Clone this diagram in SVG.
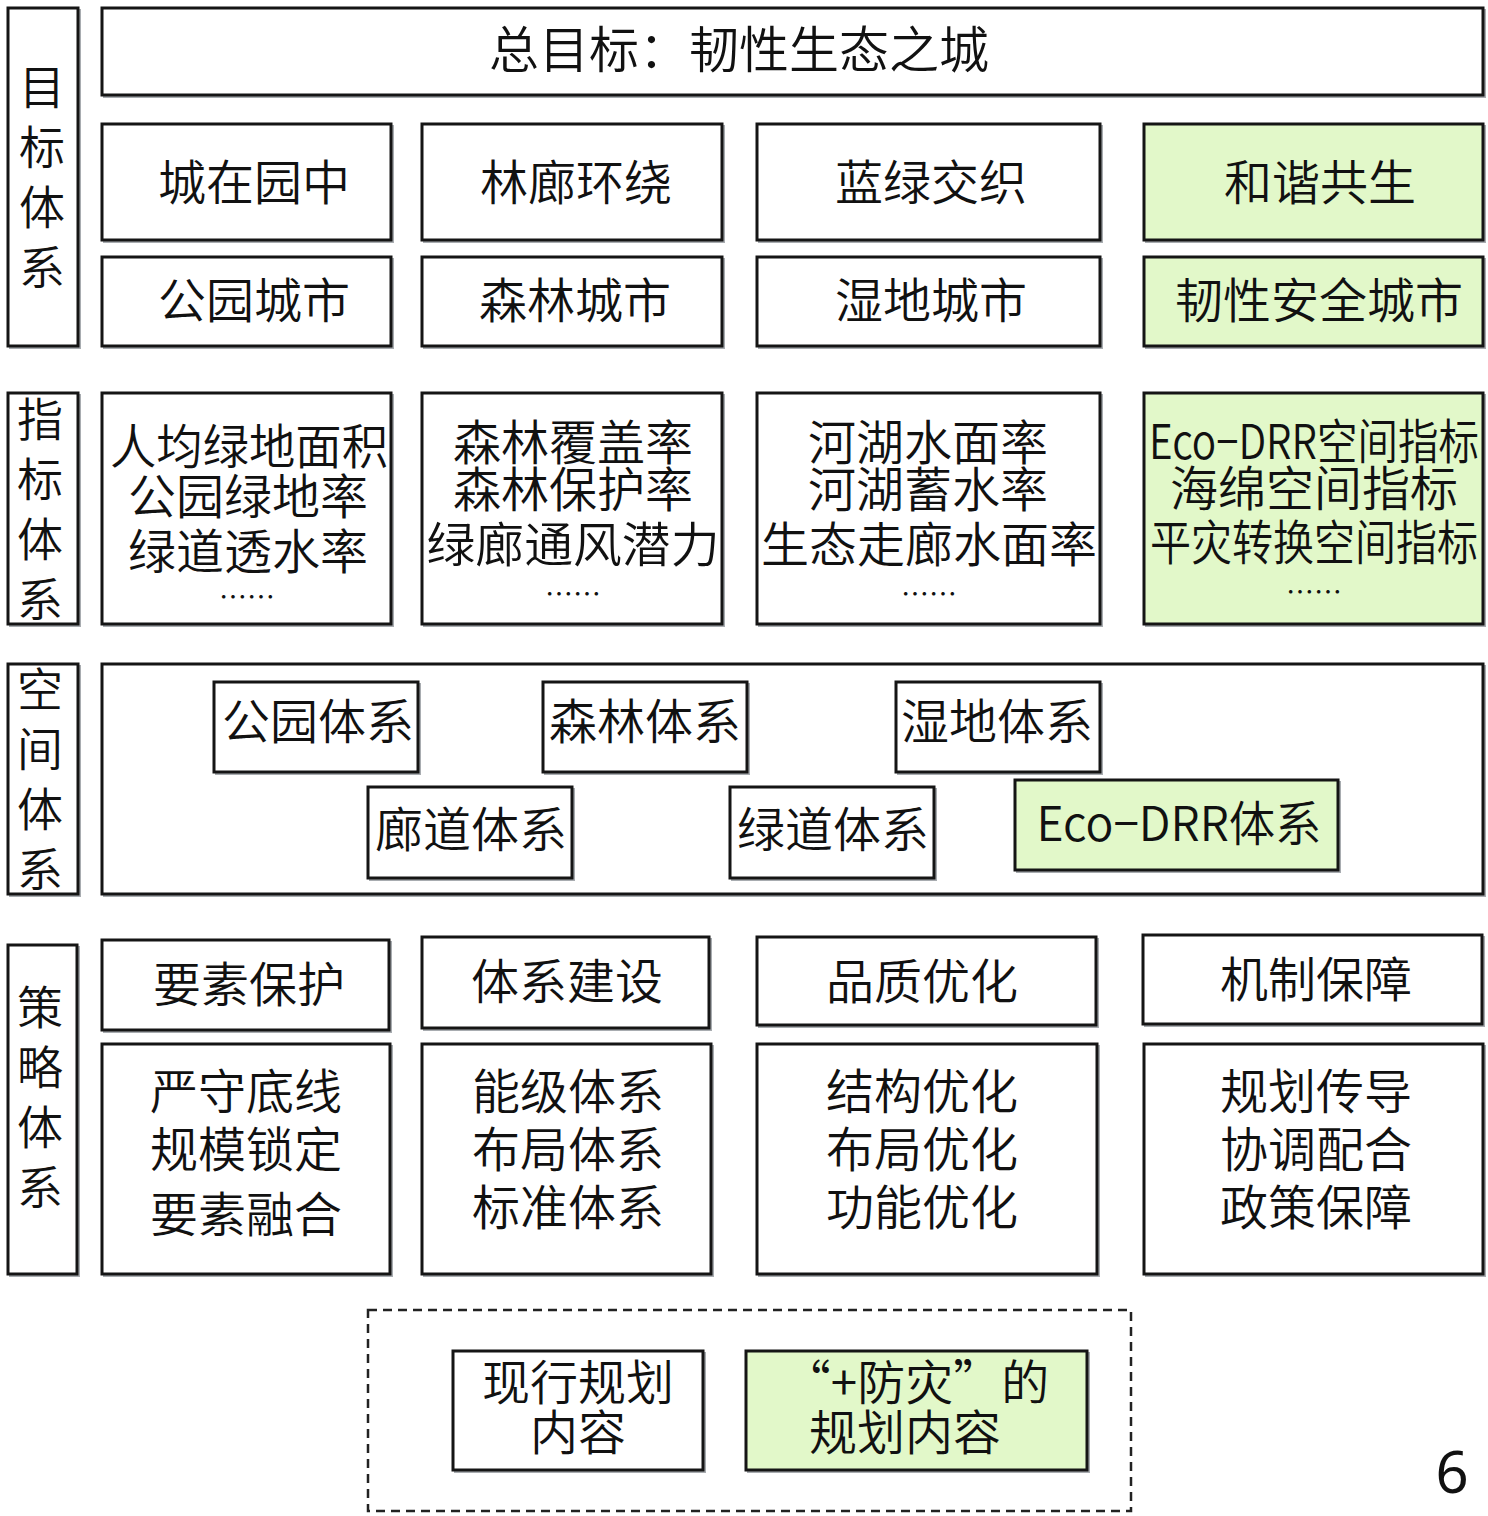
<svg xmlns="http://www.w3.org/2000/svg" width="1488" height="1516" viewBox="0 0 1488 1516">
<style>
.b{fill:#fff;stroke:#151515;stroke-width:3}
.g{fill:#e2f8c9;stroke:#151515;stroke-width:3}
.s{fill:none;stroke:#a8acb0;stroke-width:2}
text{font-family:"Noto Sans CJK SC","Noto Sans",sans-serif;font-size:48px;font-weight:350;fill:#111;text-anchor:middle;dominant-baseline:central}
.d{font-size:28px}
.v{font-size:46px}
</style>
<rect width="1488" height="1516" fill="#fff"/>

<g id="lbl-goal"><rect class="s" x="10" y="10" width="70" height="338"/><rect class="b" x="8" y="8" width="70" height="338"/>
<text class="v" x="42" y="84">目</text><text class="v" x="42" y="144">标</text><text class="v" x="42" y="204">体</text><text class="v" x="42" y="264">系</text></g>
<g id="lbl-index"><rect class="s" x="10" y="395" width="70" height="231"/><rect class="b" x="8" y="393" width="70" height="231"/>
<text class="v" x="40" y="416">指</text><text class="v" x="40" y="476">标</text><text class="v" x="40" y="536">体</text><text class="v" x="40" y="596">系</text></g>
<g id="lbl-space"><rect class="s" x="10" y="666" width="70" height="230"/><rect class="b" x="8" y="664" width="70" height="230"/>
<text class="v" x="40" y="686">空</text><text class="v" x="40" y="746">间</text><text class="v" x="40" y="806">体</text><text class="v" x="40" y="866">系</text></g>
<g id="lbl-strategy"><rect class="s" x="10" y="947" width="69" height="329"/><rect class="b" x="8" y="945" width="69" height="329"/>
<text class="v" x="40" y="1004">策</text><text class="v" x="40" y="1064">略</text><text class="v" x="40" y="1124">体</text><text class="v" x="40" y="1184">系</text></g>

<g id="goal-main"><rect class="s" x="104" y="10" width="1381" height="87"/><rect class="b" x="102" y="8" width="1381" height="87"/>
<text x="739" y="46" style="font-size:50px">总目标：韧性生态之城</text></g>

<g id="g1"><rect class="s" x="104" y="126" width="289" height="116"/><rect class="b" x="102" y="124" width="289" height="116"/><text x="254" y="179">城在园中</text></g>
<g id="g2"><rect class="s" x="424" y="126" width="300" height="116"/><rect class="b" x="422" y="124" width="300" height="116"/><text x="576" y="179">林廊环绕</text></g>
<g id="g3"><rect class="s" x="759" y="126" width="343" height="116"/><rect class="b" x="757" y="124" width="343" height="116"/><text x="931" y="179">蓝绿交织</text></g>
<g id="g4"><rect class="s" x="1146" y="126" width="339" height="116"/><rect class="g" x="1144" y="124" width="339" height="116"/><text x="1320" y="179">和谐共生</text></g>

<g id="g5"><rect class="s" x="104" y="259" width="289" height="89"/><rect class="b" x="102" y="257" width="289" height="89"/><text x="254" y="297">公园城市</text></g>
<g id="g6"><rect class="s" x="424" y="259" width="300" height="89"/><rect class="b" x="422" y="257" width="300" height="89"/><text x="575" y="297">森林城市</text></g>
<g id="g7"><rect class="s" x="759" y="259" width="343" height="89"/><rect class="b" x="757" y="257" width="343" height="89"/><text x="931" y="297">湿地城市</text></g>
<g id="g8"><rect class="s" x="1146" y="259" width="339" height="89"/><rect class="g" x="1144" y="257" width="339" height="89"/><text x="1319" y="297">韧性安全城市</text></g>

<g id="i1"><rect class="s" x="104" y="395" width="289" height="231"/><rect class="b" x="102" y="393" width="289" height="231"/>
<text x="249" y="443" textLength="278" lengthAdjust="spacingAndGlyphs">人均绿地面积</text>
<text x="248" y="493">公园绿地率</text>
<text x="248" y="548">绿道透水率</text>
<text class="d" x="247" y="596">……</text></g>
<g id="i2"><rect class="s" x="424" y="395" width="300" height="231"/><rect class="b" x="422" y="393" width="300" height="231"/>
<text x="573" y="439">森林覆盖率</text>
<text x="573" y="486">森林保护率</text>
<text x="573" y="541" textLength="293" lengthAdjust="spacingAndGlyphs">绿廊通风潜力</text>
<text class="d" x="573" y="593">……</text></g>
<g id="i3"><rect class="s" x="759" y="395" width="343" height="231"/><rect class="b" x="757" y="393" width="343" height="231"/>
<text x="928" y="439">河湖水面率</text>
<text x="928" y="486">河湖蓄水率</text>
<text x="929" y="541" textLength="336" lengthAdjust="spacingAndGlyphs">生态走廊水面率</text>
<text class="d" x="929" y="593">……</text></g>
<g id="i4"><rect class="s" x="1146" y="395" width="339" height="231"/><rect class="g" x="1144" y="393" width="339" height="231"/>
<text x="1314" y="438" textLength="330" lengthAdjust="spacingAndGlyphs">Eco−DRR空间指标</text>
<text x="1314" y="485">海绵空间指标</text>
<text x="1314" y="539" textLength="328" lengthAdjust="spacingAndGlyphs">平灾转换空间指标</text>
<text class="d" x="1314" y="591">……</text></g>

<g id="space"><rect class="s" x="104" y="666" width="1381" height="230"/><rect class="b" x="102" y="664" width="1381" height="230"/></g>
<g id="s1"><rect class="s" x="216" y="684" width="204" height="90"/><rect class="b" x="214" y="682" width="204" height="90"/><text x="318" y="718">公园体系</text></g>
<g id="s2"><rect class="s" x="545" y="684" width="204" height="90"/><rect class="b" x="543" y="682" width="204" height="90"/><text x="645" y="718">森林体系</text></g>
<g id="s3"><rect class="s" x="898" y="684" width="204" height="90"/><rect class="b" x="896" y="682" width="204" height="90"/><text x="997" y="718">湿地体系</text></g>
<g id="s4"><rect class="s" x="370" y="789" width="204" height="91"/><rect class="b" x="368" y="787" width="204" height="91"/><text x="471" y="826">廊道体系</text></g>
<g id="s5"><rect class="s" x="732" y="789" width="204" height="91"/><rect class="b" x="730" y="787" width="204" height="91"/><text x="833" y="826">绿道体系</text></g>
<g id="s6"><rect class="s" x="1017" y="782" width="323" height="90"/><rect class="g" x="1015" y="780" width="323" height="90"/><text x="1179" y="820" textLength="285" lengthAdjust="spacingAndGlyphs">Eco−DRR体系</text></g>

<g id="t1"><rect class="s" x="104" y="942" width="287" height="90"/><rect class="b" x="102" y="940" width="287" height="90"/><text x="249" y="981">要素保护</text></g>
<g id="t2"><rect class="s" x="424" y="939" width="287" height="91"/><rect class="b" x="422" y="937" width="287" height="91"/><text x="567" y="978">体系建设</text></g>
<g id="t3"><rect class="s" x="759" y="939" width="339" height="88"/><rect class="b" x="757" y="937" width="339" height="88"/><text x="922" y="978">品质优化</text></g>
<g id="t4"><rect class="s" x="1145" y="937" width="339" height="89"/><rect class="b" x="1143" y="935" width="339" height="89"/><text x="1316" y="976">机制保障</text></g>

<g id="u1"><rect class="s" x="104" y="1046" width="288" height="230"/><rect class="b" x="102" y="1044" width="288" height="230"/>
<text x="246" y="1088">严守底线</text><text x="246" y="1146">规模锁定</text><text x="246" y="1211">要素融合</text></g>
<g id="u2"><rect class="s" x="424" y="1046" width="289" height="230"/><rect class="b" x="422" y="1044" width="289" height="230"/>
<text x="568" y="1088">能级体系</text><text x="568" y="1146">布局体系</text><text x="568" y="1204">标准体系</text></g>
<g id="u3"><rect class="s" x="759" y="1046" width="340" height="230"/><rect class="b" x="757" y="1044" width="340" height="230"/>
<text x="922" y="1088">结构优化</text><text x="922" y="1146">布局优化</text><text x="922" y="1204">功能优化</text></g>
<g id="u4"><rect class="s" x="1146" y="1046" width="339" height="230"/><rect class="b" x="1144" y="1044" width="339" height="230"/>
<text x="1316" y="1088">规划传导</text><text x="1316" y="1146">协调配合</text><text x="1316" y="1204">政策保障</text></g>

<g id="legend"><rect x="368" y="1310" width="763" height="201" fill="none" stroke="#222" stroke-width="2.5" stroke-dasharray="9,6"/></g>
<g id="leg1"><rect class="s" x="455" y="1353" width="250" height="119"/><rect class="b" x="453" y="1351" width="250" height="119"/>
<text x="578" y="1379">现行规划</text><text x="578" y="1429">内容</text></g>
<g id="leg2"><rect class="s" x="748" y="1353" width="341" height="119"/><rect class="g" x="746" y="1351" width="341" height="119"/>
<text x="916" y="1379">“+防灾”的</text><text x="905" y="1429">规划内容</text></g>

<text x="1452" y="1493" style="font-family:'Noto Sans','Liberation Sans',sans-serif;font-size:58px;font-weight:400;dominant-baseline:alphabetic">6</text>
</svg>
